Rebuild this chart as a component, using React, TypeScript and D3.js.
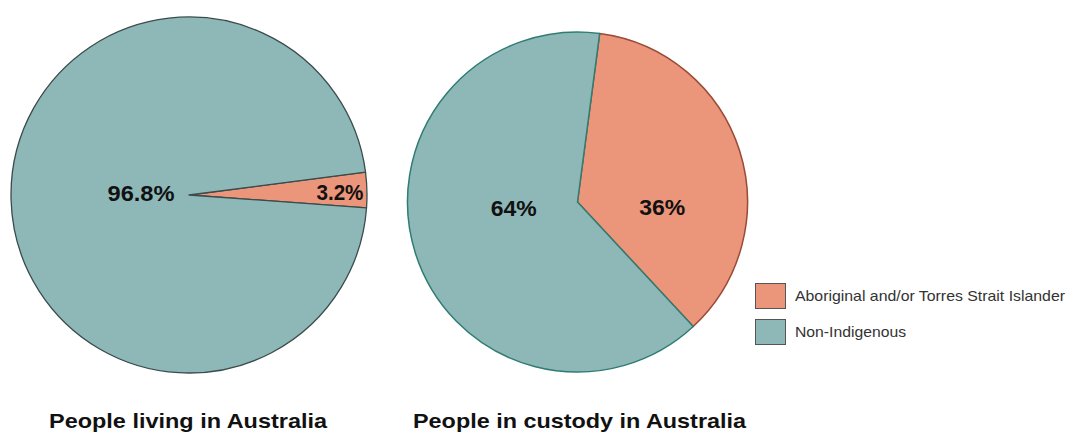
import React from "react";
import * as d3 from "d3";

const categories = ["Aboriginal and/or Torres Strait Islander", "Non-Indigenous"];
const livingValues = [3.2, 96.8];
const custodyValues = [36, 64];
const livingLabels = ["3.2%", "96.8%"];
const custodyLabels = ["36%", "64%"];
const titles = ["People living in Australia", "People in custody in Australia"];

const fills = ["#eb957a", "#8eb8b8"];
const FONT = "Arial, 'Liberation Sans', Helvetica, sans-serif";

type PieSpec = {
  cx: number;
  cy: number;
  r: number;
  values: number[];
  labels: string[];
  start: number; // degrees
  labelR: number[];
  labelDy: number[];
  labelW: number[];
  strokes: string[];
  strokeW: number;
  title: string;
  titleX: number;
  titleW: number;
};

function Pie({ spec }: { spec: PieSpec }) {
  const start = (spec.start * Math.PI) / 180;
  const pie = d3
    .pie<number>()
    .sort(null)
    .value((d) => d)
    .startAngle(start)
    .endAngle(start + 2 * Math.PI);
  const arcs = pie(spec.values);
  const arc = d3.arc<d3.PieArcDatum<number>>().innerRadius(0).outerRadius(spec.r);
  return (
    <g>
      <g transform={`translate(${spec.cx},${spec.cy})`}>
        {arcs.map((a, i) => (
          <path
            key={"p" + i}
            d={arc(a) || ""}
            fill={fills[i]}
            stroke={spec.strokes[i]}
            strokeWidth={spec.strokeW}
            strokeLinejoin="round"
          />
        ))}
        {arcs.map((a, i) => {
          const la = d3.arc<d3.PieArcDatum<number>>().innerRadius(spec.labelR[i]).outerRadius(spec.labelR[i]);
          const [x] = la.centroid(a);
          return (
            <text
              key={"t" + i}
              x={x}
              y={spec.labelDy[i]}
              textAnchor="middle"
              dominantBaseline="central"
              fontFamily={FONT}
              fontWeight="bold"
              fontSize={22}
              textLength={spec.labelW[i]}
              lengthAdjust="spacingAndGlyphs"
              fill="#111"
            >
              {spec.labels[i]}
            </text>
          );
        })}
      </g>
      <text
        x={spec.titleX}
        y={428}
        fontFamily={FONT}
        fontWeight="bold"
        fontSize={21}
        textLength={spec.titleW}
        lengthAdjust="spacingAndGlyphs"
        fill="#111"
      >
        {spec.title}
      </text>
    </g>
  );
}

export default function App() {
  const specs: PieSpec[] = [
    {
      cx: 189,
      cy: 195,
      r: 178,
      values: livingValues,
      labels: livingLabels,
      start: 82.6,
      labelR: [151, 48],
      labelDy: [-3, -2],
      labelW: [47, 67],
      strokes: ["#3a4b4b", "#3a4b4b"],
      strokeW: 1.3,
      title: titles[0],
      titleX: 49,
      titleW: 278,
    },
    {
      cx: 577.5,
      cy: 202,
      r: 170,
      values: custodyValues,
      labels: custodyLabels,
      start: 7.5,
      labelR: [89, 67],
      labelDy: [5, 6],
      labelW: [46, 46],
      strokes: ["#9a4a35", "#2f7d72"],
      strokeW: 1.5,
      title: titles[1],
      titleX: 413,
      titleW: 333,
    },
  ];

  const legendY = [283, 319];
  const legendW = [270, 111];
  return (
    <svg
      width={1068}
      height={433}
      style={{ position: "absolute", left: 0, top: 0, background: "#fff" }}
    >
      <rect width={1068} height={433} fill="#fff" />
      {specs.map((s, i) => (
        <Pie key={i} spec={s} />
      ))}
      <g>
        {categories.map((c, i) => (
          <g key={c}>
            <rect
              x={755.5}
              y={legendY[i] + 0.5}
              width={30}
              height={25}
              fill={fills[i]}
              stroke="#555"
              strokeWidth={1}
            />
            <text
              x={795}
              y={legendY[i] + 13}
              dominantBaseline="central"
              fontFamily={FONT}
              fontSize={14.5}
              textLength={legendW[i]}
              lengthAdjust="spacingAndGlyphs"
              fill="#333"
            >
              {c}
            </text>
          </g>
        ))}
      </g>
    </svg>
  );
}
